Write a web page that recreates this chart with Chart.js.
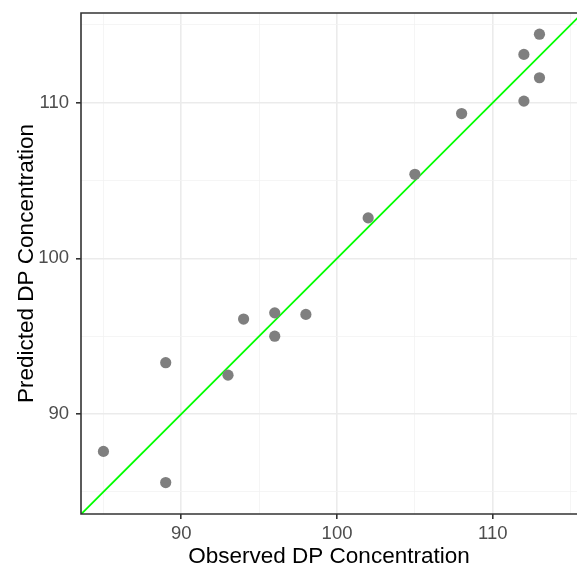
<!DOCTYPE html>
<html>
<head>
<meta charset="utf-8">
<script src="https://cdn.jsdelivr.net/npm/chart.js@4.4.1/dist/chart.umd.min.js"></script>
<style>
  html, body { margin: 0; padding: 0; background: #ffffff; overflow: hidden; }
  #wrap { width: 577px; height: 567px; }
  canvas { display: block; }
</style>
</head>
<body>
<div id="wrap"><canvas id="c" width="577" height="567"></canvas></div>
<script>
// Data
const observed  = [85, 89, 89, 93, 94, 96, 96, 98, 102, 105, 108, 112, 112, 113, 113];
const predicted = [87.6, 85.6, 93.3, 92.5, 96.1, 96.5, 95.0, 96.4, 102.6, 105.4, 109.3, 110.1, 113.1, 114.4, 111.6];
// identity reference line y = x (clipped to panel)
const refLineX = [80, 120];
const refLineY = [80, 120];
// axis breaks
const xBreaks = [85, 90, 95, 100, 105, 110, 115];
const yBreaks = [85, 90, 95, 100, 105, 110, 115];
const majorBreaks = [90, 100, 110];
const xRange = [83.56, 115.41];
const yRange = [83.58, 115.76];

const scatterData = observed.map((x, i) => ({ x: x, y: predicted[i] }));
const lineData = refLineX.map((x, i) => ({ x: x, y: refLineY[i] }));

const isMajor = v => majorBreaks.includes(v);

const panelBorder = {
  id: 'panelBorder',
  afterDraw(chart) {
    const { ctx, chartArea: a } = chart;
    ctx.save();
    ctx.strokeStyle = '#333333';
    ctx.lineWidth = 1.6;
    ctx.beginPath();
    ctx.moveTo(a.right + 2, a.top);
    ctx.lineTo(a.left, a.top);
    ctx.lineTo(a.left, a.bottom);
    ctx.lineTo(a.right + 2, a.bottom);
    ctx.stroke();
    ctx.restore();
  }
};

function gridOpts() {
  return {
    drawOnChartArea: true,
    drawTicks: true,
    tickLength: 5,
    color: c => isMajor(c.tick && c.tick.value) ? '#EBEBEB' : '#F2F2F2',
    lineWidth: c => isMajor(c.tick && c.tick.value) ? 1.6 : 0.8,
    tickColor: c => isMajor(c.tick && c.tick.value) ? '#333333' : 'rgba(0,0,0,0)',
    tickWidth: 1.6
  };
}

function zeroPad(s) {
  s.paddingLeft = 0; s.paddingRight = 0; s.paddingTop = 0; s.paddingBottom = 0;
}

new Chart(document.getElementById('c'), {
  data: {
    datasets: [
      {
        type: 'scatter',
        data: scatterData,
        backgroundColor: '#7F7F7F',
        borderColor: '#7F7F7F',
        borderWidth: 0,
        pointRadius: 5.6,
        pointHoverRadius: 5.6,
        order: 0
      },
      {
        type: 'line',
        data: lineData,
        borderColor: '#00FF00',
        borderWidth: 1.8,
        pointRadius: 0,
        fill: false,
        tension: 0,
        order: 1
      }
    ]
  },
  options: {
    responsive: false,
    animation: false,
    devicePixelRatio: 1,
    layout: { autoPadding: false, padding: { top: 13, right: 0, bottom: 0, left: 0 } },
    plugins: { legend: { display: false }, tooltip: { enabled: false } },
    scales: {
      x: {
        type: 'linear',
        position: 'bottom',
        min: xRange[0],
        max: xRange[1],
        afterBuildTicks: s => { s.ticks = xBreaks.map(v => ({ value: v })); },
        afterFit: s => { s.height = 53; zeroPad(s); },
        grid: gridOpts(),
        border: { display: false },
        ticks: {
          padding: 4,
          color: '#4D4D4D',
          font: { family: 'Liberation Sans, Arial, sans-serif', size: 18.5 },
          maxRotation: 0,
          autoSkip: false,
          callback: v => isMajor(v) ? String(v) : ''
        },
        title: {
          display: true,
          text: 'Observed DP Concentration',
          color: '#000000',
          font: { family: 'Liberation Sans, Arial, sans-serif', size: 22.5, lineHeight: 0.9 },
          padding: { top: 0, bottom: 0 }
        }
      },
      y: {
        type: 'linear',
        position: 'left',
        min: yRange[0],
        max: yRange[1],
        afterBuildTicks: s => { s.ticks = yBreaks.map(v => ({ value: v })); },
        afterFit: s => { s.width = 81; zeroPad(s); },
        grid: gridOpts(),
        border: { display: false },
        ticks: {
          padding: 7,
          color: '#4D4D4D',
          font: { family: 'Liberation Sans, Arial, sans-serif', size: 18.5 },
          autoSkip: false,
          callback: v => isMajor(v) ? String(v) : ''
        },
        title: {
          display: true,
          text: 'Predicted DP Concentration',
          color: '#000000',
          font: { family: 'Liberation Sans, Arial, sans-serif', size: 22.5 },
          padding: { top: 13, bottom: 0 }
        }
      }
    }
  },
  plugins: [panelBorder]
});
</script>
</body>
</html>
